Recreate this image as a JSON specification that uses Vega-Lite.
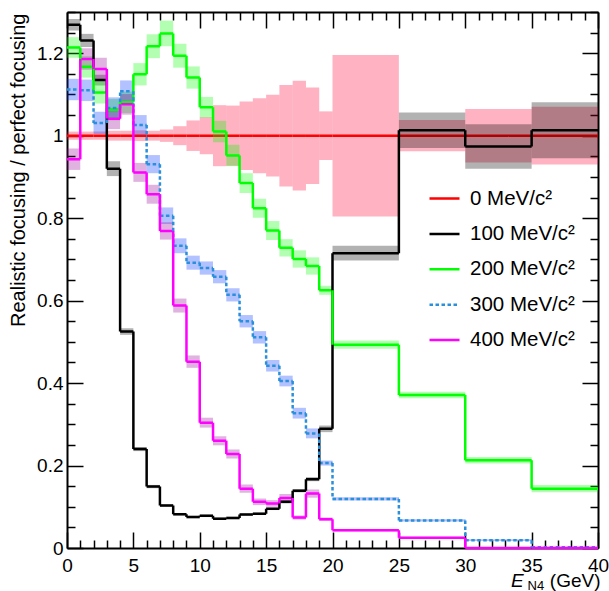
{
"$schema":"https://vega.github.io/schema/vega-lite/v6.json",
"autosize":{"type":"none"},
"width":531,"height":536,
"padding":{"left":67,"top":12,"right":11,"bottom":43},
"background":"white",
"config":{"view":{"stroke":null},
"axis":{"grid":false,"domainColor":"black","domainWidth":2,"tickColor":"black","tickWidth":1.5,"labelColor":"black","labelFont":"Liberation Sans","labelFontSize":19,"titleFont":"Liberation Sans","titleFontSize":19,"titleColor":"black","titleFontWeight":"normal"},
"legend":{"labelFont":"Liberation Sans"}},
"data":{"values":[
{"s":"0 MeV/c²","a":0,"b":1,"y":1,"lo":0.99,"hi":1.01},
{"s":"0 MeV/c²","a":1,"b":2,"y":1,"lo":0.99,"hi":1.01},
{"s":"0 MeV/c²","a":2,"b":3,"y":1,"lo":0.99,"hi":1.01},
{"s":"0 MeV/c²","a":3,"b":4,"y":1,"lo":0.988,"hi":1.012},
{"s":"0 MeV/c²","a":4,"b":5,"y":1,"lo":0.988,"hi":1.012},
{"s":"0 MeV/c²","a":5,"b":6,"y":1,"lo":0.987,"hi":1.013},
{"s":"0 MeV/c²","a":6,"b":7,"y":1,"lo":0.988,"hi":1.012},
{"s":"0 MeV/c²","a":7,"b":8,"y":1,"lo":0.985,"hi":1.015},
{"s":"0 MeV/c²","a":8,"b":9,"y":1,"lo":0.977,"hi":1.023},
{"s":"0 MeV/c²","a":9,"b":10,"y":1,"lo":0.963,"hi":1.037},
{"s":"0 MeV/c²","a":10,"b":11,"y":1,"lo":0.955,"hi":1.045},
{"s":"0 MeV/c²","a":11,"b":12,"y":1,"lo":0.926,"hi":1.074},
{"s":"0 MeV/c²","a":12,"b":13,"y":1,"lo":0.927,"hi":1.073},
{"s":"0 MeV/c²","a":13,"b":14,"y":1,"lo":0.917,"hi":1.083},
{"s":"0 MeV/c²","a":14,"b":15,"y":1,"lo":0.909,"hi":1.091},
{"s":"0 MeV/c²","a":15,"b":16,"y":1,"lo":0.901,"hi":1.099},
{"s":"0 MeV/c²","a":16,"b":17,"y":1,"lo":0.877,"hi":1.123},
{"s":"0 MeV/c²","a":17,"b":18,"y":1,"lo":0.867,"hi":1.133},
{"s":"0 MeV/c²","a":18,"b":19,"y":1,"lo":0.883,"hi":1.117},
{"s":"0 MeV/c²","a":19,"b":20,"y":1,"lo":0.941,"hi":1.059},
{"s":"0 MeV/c²","a":20,"b":25,"y":1,"lo":0.804,"hi":1.196},
{"s":"0 MeV/c²","a":25,"b":30,"y":1,"lo":0.962,"hi":1.038},
{"s":"0 MeV/c²","a":30,"b":35,"y":1,"lo":0.935,"hi":1.065},
{"s":"0 MeV/c²","a":35,"b":40,"y":1,"lo":0.93,"hi":1.07},
{"s":"100 MeV/c²","a":0,"b":1,"y":1.269,"lo":1.255,"hi":1.283},
{"s":"100 MeV/c²","a":1,"b":2,"y":1.231,"lo":1.215,"hi":1.247},
{"s":"100 MeV/c²","a":2,"b":3,"y":1.135,"lo":1.122,"hi":1.148},
{"s":"100 MeV/c²","a":3,"b":4,"y":0.92,"lo":0.902,"hi":0.938},
{"s":"100 MeV/c²","a":4,"b":5,"y":0.525,"lo":0.517,"hi":0.533},
{"s":"100 MeV/c²","a":5,"b":6,"y":0.24,"lo":0.235,"hi":0.245},
{"s":"100 MeV/c²","a":6,"b":7,"y":0.149,"lo":0.145,"hi":0.153},
{"s":"100 MeV/c²","a":7,"b":8,"y":0.103,"lo":0.1,"hi":0.106},
{"s":"100 MeV/c²","a":8,"b":9,"y":0.082,"lo":0.079,"hi":0.085},
{"s":"100 MeV/c²","a":9,"b":10,"y":0.075,"lo":0.072,"hi":0.078},
{"s":"100 MeV/c²","a":10,"b":11,"y":0.078,"lo":0.075,"hi":0.081},
{"s":"100 MeV/c²","a":11,"b":12,"y":0.071,"lo":0.068,"hi":0.074},
{"s":"100 MeV/c²","a":12,"b":13,"y":0.073,"lo":0.07,"hi":0.076},
{"s":"100 MeV/c²","a":13,"b":14,"y":0.081,"lo":0.078,"hi":0.084},
{"s":"100 MeV/c²","a":14,"b":15,"y":0.083,"lo":0.08,"hi":0.086},
{"s":"100 MeV/c²","a":15,"b":16,"y":0.095,"lo":0.092,"hi":0.098},
{"s":"100 MeV/c²","a":16,"b":17,"y":0.112,"lo":0.108,"hi":0.116},
{"s":"100 MeV/c²","a":17,"b":18,"y":0.139,"lo":0.135,"hi":0.143},
{"s":"100 MeV/c²","a":18,"b":19,"y":0.167,"lo":0.162,"hi":0.172},
{"s":"100 MeV/c²","a":19,"b":20,"y":0.289,"lo":0.281,"hi":0.297},
{"s":"100 MeV/c²","a":20,"b":25,"y":0.715,"lo":0.697,"hi":0.733},
{"s":"100 MeV/c²","a":25,"b":30,"y":1.013,"lo":0.97,"hi":1.056},
{"s":"100 MeV/c²","a":30,"b":35,"y":0.974,"lo":0.92,"hi":1.028},
{"s":"100 MeV/c²","a":35,"b":40,"y":1.013,"lo":0.945,"hi":1.081},
{"s":"200 MeV/c²","a":0,"b":1,"y":1.214,"lo":1.189,"hi":1.239},
{"s":"200 MeV/c²","a":1,"b":2,"y":1.167,"lo":1.141,"hi":1.193},
{"s":"200 MeV/c²","a":2,"b":3,"y":1.105,"lo":1.078,"hi":1.132},
{"s":"200 MeV/c²","a":3,"b":4,"y":1.063,"lo":1.037,"hi":1.089},
{"s":"200 MeV/c²","a":4,"b":5,"y":1.081,"lo":1.055,"hi":1.107},
{"s":"200 MeV/c²","a":5,"b":6,"y":1.149,"lo":1.122,"hi":1.176},
{"s":"200 MeV/c²","a":6,"b":7,"y":1.217,"lo":1.188,"hi":1.246},
{"s":"200 MeV/c²","a":7,"b":8,"y":1.248,"lo":1.217,"hi":1.279},
{"s":"200 MeV/c²","a":8,"b":9,"y":1.194,"lo":1.165,"hi":1.223},
{"s":"200 MeV/c²","a":9,"b":10,"y":1.141,"lo":1.114,"hi":1.168},
{"s":"200 MeV/c²","a":10,"b":11,"y":1.069,"lo":1.044,"hi":1.094},
{"s":"200 MeV/c²","a":11,"b":12,"y":1.01,"lo":0.984,"hi":1.036},
{"s":"200 MeV/c²","a":12,"b":13,"y":0.952,"lo":0.926,"hi":0.978},
{"s":"200 MeV/c²","a":13,"b":14,"y":0.885,"lo":0.861,"hi":0.909},
{"s":"200 MeV/c²","a":14,"b":15,"y":0.824,"lo":0.801,"hi":0.847},
{"s":"200 MeV/c²","a":15,"b":16,"y":0.77,"lo":0.747,"hi":0.793},
{"s":"200 MeV/c²","a":16,"b":17,"y":0.728,"lo":0.707,"hi":0.749},
{"s":"200 MeV/c²","a":17,"b":18,"y":0.701,"lo":0.68,"hi":0.722},
{"s":"200 MeV/c²","a":18,"b":19,"y":0.684,"lo":0.663,"hi":0.705},
{"s":"200 MeV/c²","a":19,"b":20,"y":0.625,"lo":0.614,"hi":0.636},
{"s":"200 MeV/c²","a":20,"b":25,"y":0.493,"lo":0.483,"hi":0.503},
{"s":"200 MeV/c²","a":25,"b":30,"y":0.371,"lo":0.363,"hi":0.379},
{"s":"200 MeV/c²","a":30,"b":35,"y":0.213,"lo":0.205,"hi":0.221},
{"s":"200 MeV/c²","a":35,"b":40,"y":0.144,"lo":0.135,"hi":0.153},
{"s":"300 MeV/c²","a":0,"b":1,"y":1.112,"lo":1.086,"hi":1.138},
{"s":"300 MeV/c²","a":1,"b":2,"y":1.11,"lo":1.084,"hi":1.136},
{"s":"300 MeV/c²","a":2,"b":3,"y":1.031,"lo":1.004,"hi":1.058},
{"s":"300 MeV/c²","a":3,"b":4,"y":1.067,"lo":1.041,"hi":1.093},
{"s":"300 MeV/c²","a":4,"b":5,"y":1.108,"lo":1.082,"hi":1.134},
{"s":"300 MeV/c²","a":5,"b":6,"y":1.026,"lo":1.002,"hi":1.05},
{"s":"300 MeV/c²","a":6,"b":7,"y":0.931,"lo":0.909,"hi":0.953},
{"s":"300 MeV/c²","a":7,"b":8,"y":0.806,"lo":0.786,"hi":0.826},
{"s":"300 MeV/c²","a":8,"b":9,"y":0.733,"lo":0.715,"hi":0.751},
{"s":"300 MeV/c²","a":9,"b":10,"y":0.692,"lo":0.675,"hi":0.709},
{"s":"300 MeV/c²","a":10,"b":11,"y":0.679,"lo":0.663,"hi":0.695},
{"s":"300 MeV/c²","a":11,"b":12,"y":0.658,"lo":0.642,"hi":0.674},
{"s":"300 MeV/c²","a":12,"b":13,"y":0.614,"lo":0.598,"hi":0.63},
{"s":"300 MeV/c²","a":13,"b":14,"y":0.55,"lo":0.535,"hi":0.565},
{"s":"300 MeV/c²","a":14,"b":15,"y":0.511,"lo":0.496,"hi":0.526},
{"s":"300 MeV/c²","a":15,"b":16,"y":0.442,"lo":0.428,"hi":0.456},
{"s":"300 MeV/c²","a":16,"b":17,"y":0.405,"lo":0.392,"hi":0.418},
{"s":"300 MeV/c²","a":17,"b":18,"y":0.327,"lo":0.314,"hi":0.34},
{"s":"300 MeV/c²","a":18,"b":19,"y":0.278,"lo":0.266,"hi":0.29},
{"s":"300 MeV/c²","a":19,"b":20,"y":0.206,"lo":0.2,"hi":0.212},
{"s":"300 MeV/c²","a":20,"b":25,"y":0.119,"lo":0.115,"hi":0.123},
{"s":"300 MeV/c²","a":25,"b":30,"y":0.067,"lo":0.064,"hi":0.07},
{"s":"300 MeV/c²","a":30,"b":35,"y":0.019,"lo":0.017,"hi":0.021},
{"s":"300 MeV/c²","a":35,"b":40,"y":0.002,"lo":0.001,"hi":0.003},
{"s":"400 MeV/c²","a":0,"b":1,"y":0.943,"lo":0.917,"hi":0.969},
{"s":"400 MeV/c²","a":1,"b":2,"y":1.186,"lo":1.16,"hi":1.212},
{"s":"400 MeV/c²","a":2,"b":3,"y":1.162,"lo":1.135,"hi":1.189},
{"s":"400 MeV/c²","a":3,"b":4,"y":1.041,"lo":1.016,"hi":1.066},
{"s":"400 MeV/c²","a":4,"b":5,"y":1.076,"lo":1.051,"hi":1.101},
{"s":"400 MeV/c²","a":5,"b":6,"y":0.911,"lo":0.888,"hi":0.934},
{"s":"400 MeV/c²","a":6,"b":7,"y":0.858,"lo":0.835,"hi":0.881},
{"s":"400 MeV/c²","a":7,"b":8,"y":0.769,"lo":0.748,"hi":0.79},
{"s":"400 MeV/c²","a":8,"b":9,"y":0.588,"lo":0.571,"hi":0.605},
{"s":"400 MeV/c²","a":9,"b":10,"y":0.452,"lo":0.437,"hi":0.467},
{"s":"400 MeV/c²","a":10,"b":11,"y":0.304,"lo":0.292,"hi":0.316},
{"s":"400 MeV/c²","a":11,"b":12,"y":0.26,"lo":0.249,"hi":0.271},
{"s":"400 MeV/c²","a":12,"b":13,"y":0.228,"lo":0.217,"hi":0.239},
{"s":"400 MeV/c²","a":13,"b":14,"y":0.144,"lo":0.134,"hi":0.154},
{"s":"400 MeV/c²","a":14,"b":15,"y":0.112,"lo":0.104,"hi":0.12},
{"s":"400 MeV/c²","a":15,"b":16,"y":0.108,"lo":0.1,"hi":0.116},
{"s":"400 MeV/c²","a":16,"b":17,"y":0.121,"lo":0.111,"hi":0.131},
{"s":"400 MeV/c²","a":17,"b":18,"y":0.074,"lo":0.069,"hi":0.079},
{"s":"400 MeV/c²","a":18,"b":19,"y":0.132,"lo":0.122,"hi":0.142},
{"s":"400 MeV/c²","a":19,"b":20,"y":0.07,"lo":0.066,"hi":0.074},
{"s":"400 MeV/c²","a":20,"b":25,"y":0.043,"lo":0.04,"hi":0.046},
{"s":"400 MeV/c²","a":25,"b":30,"y":0.025,"lo":0.023,"hi":0.027},
{"s":"400 MeV/c²","a":30,"b":35,"y":0,"lo":0,"hi":0},
{"s":"400 MeV/c²","a":35,"b":40,"y":0,"lo":0,"hi":0}
]},
"resolve":{"axis":{"x":"independent","y":"independent"}},
"layer":[
{"transform":[{"filter":{"field":"s","equal":"0 MeV/c²"}}],
 "mark":{"type":"rect","fillOpacity":0.3,"strokeWidth":0},
 "encoding":{
  "x":{"field":"a","type":"quantitative","scale":{"domain":[0,40],"nice":false,"zero":false},
   "axis":{"orient":"bottom","values":[0,5,10,15,20,25,30,35,40],"tickSize":-16,"labelPadding":24,"labelExpr":"''+datum.value","labelFlush":false,"labelOverlap":false,"title":"(GeV)","titleX":533,"titleY":38.5,"titleAlign":"right","titleBaseline":"alphabetic"}},
  "x2":{"field":"b"},
  "y":{"field":"lo","type":"quantitative","scale":{"domain":[0,1.3],"nice":false,"zero":false},
   "axis":{"orient":"left","values":[0,0.2,0.4,0.6,0.8,1,1.2],"tickSize":-16,"labelPadding":20,"labelExpr":"''+datum.value","labelFlush":false,"labelOverlap":false,"title":"Realistic focusing / perfect focusing","titleFontSize":20,"titleAngle":270,"titleX":-43,"titleY":1,"titleAlign":"right","titleBaseline":"alphabetic"}},
  "y2":{"field":"hi"},
  "fill":{"field":"s","type":"nominal","scale":{"domain":["400 MeV/c²","300 MeV/c²","200 MeV/c²","100 MeV/c²","0 MeV/c²"],"range":["#990099","#0033ff","#00ff00","#000000","#ff0033"]},"legend":null}
 }},
{"transform":[{"filter":{"field":"s","equal":"0 MeV/c²"}}],
 "mark":{"type":"rule","strokeWidth":2.5,"strokeCap":"butt"},
 "encoding":{
  "x":{"field":"a","type":"quantitative","scale":{"domain":[0,40],"nice":false,"zero":false},
   "axis":{"orient":"bottom","values":[1,2,3,4,6,7,8,9,11,12,13,14,16,17,18,19,21,22,23,24,26,27,28,29,31,32,33,34,36,37,38,39],"tickSize":-8,"labels":false,"domain":false,"title":"N4","titleX":460,"titleY":41,"titleAlign":"left","titleBaseline":"alphabetic","titleFontSize":13}},
  "x2":{"field":"b"},
  "y":{"field":"y","type":"quantitative","scale":{"domain":[0,1.3],"nice":false,"zero":false},
   "axis":{"orient":"left","values":[0.05,0.1,0.15,0.25,0.3,0.35,0.45,0.5,0.55,0.65,0.7,0.75,0.85,0.9,0.95,1.05,1.1,1.15,1.25,1.3],"tickSize":-8,"labels":false,"domain":false,"title":null}},
  "stroke":{"field":"s","type":"nominal","scale":{"domain":["0 MeV/c²","100 MeV/c²","200 MeV/c²","300 MeV/c²","400 MeV/c²"],"range":["#ff0000","#000000","#00ff00","#2a90dc","#ff00ff"]},
   "legend":{"title":null,"orient":"none","legendX":361,"legendY":170,"padding":0,"symbolType":"stroke","symbolSize":900,"symbolStrokeWidth":2.5,"labelFontSize":20.5,"labelColor":"black","labelOffset":9,"rowPadding":8.4,"labelExpr":"datum.label == '0 MeV/c²' ? '\u2007' + datum.label : datum.label"}},
  "strokeDash":{"field":"s","type":"nominal","scale":{"domain":["0 MeV/c²","100 MeV/c²","200 MeV/c²","300 MeV/c²","400 MeV/c²"],"range":[[1,0],[1,0],[1,0],[3.5,2.5],[1,0]]},
   "legend":{"title":null,"orient":"none","legendX":361,"legendY":170,"padding":0,"symbolType":"stroke","symbolSize":900,"symbolStrokeWidth":2.5,"labelFontSize":20.5,"labelColor":"black","labelOffset":9,"rowPadding":8.4,"labelExpr":"datum.label == '0 MeV/c²' ? '\u2007' + datum.label : datum.label"}}
 }},
{"transform":[{"filter":{"not":{"field":"s","equal":"0 MeV/c²"}}}],
 "mark":{"type":"rect","fillOpacity":0.3,"strokeWidth":0},
 "encoding":{
  "x":{"field":"a","type":"quantitative","scale":{"domain":[0,40],"nice":false,"zero":false},
   "axis":{"orient":"top","values":[0,5,10,15,20,25,30,35,40],"tickSize":-16,"labels":false,"title":"E","titleX":443.5,"titleY":574.5,"titleAlign":"left","titleBaseline":"alphabetic","titleFontStyle":"italic"}},
  "x2":{"field":"b"},
  "y":{"field":"lo","type":"quantitative","scale":{"domain":[0,1.3],"nice":false,"zero":false},
   "axis":{"orient":"right","values":[0,0.2,0.4,0.6,0.8,1,1.2],"tickSize":-16,"labels":false,"title":null}},
  "y2":{"field":"hi"},
  "fill":{"field":"s","type":"nominal","scale":{"domain":["400 MeV/c²","300 MeV/c²","200 MeV/c²","100 MeV/c²","0 MeV/c²"],"range":["#990099","#0033ff","#00ff00","#000000","#ff0033"]},"legend":null}
 }},
{"transform":[{"filter":{"not":{"field":"s","equal":"0 MeV/c²"}}}],
 "mark":{"type":"rule","strokeWidth":2.5,"strokeCap":"butt"},
 "encoding":{
  "x":{"field":"a","type":"quantitative","scale":{"domain":[0,40],"nice":false,"zero":false},
   "axis":{"orient":"top","values":[1,2,3,4,6,7,8,9,11,12,13,14,16,17,18,19,21,22,23,24,26,27,28,29,31,32,33,34,36,37,38,39],"tickSize":-8,"labels":false,"domain":false,"title":null}},
  "x2":{"field":"b"},
  "y":{"field":"y","type":"quantitative","scale":{"domain":[0,1.3],"nice":false,"zero":false},
   "axis":{"orient":"right","values":[0.05,0.1,0.15,0.25,0.3,0.35,0.45,0.5,0.55,0.65,0.7,0.75,0.85,0.9,0.95,1.05,1.1,1.15,1.25,1.3],"tickSize":-8,"labels":false,"domain":false,"title":null}},
  "stroke":{"field":"s","type":"nominal","scale":{"domain":["0 MeV/c²","100 MeV/c²","200 MeV/c²","300 MeV/c²","400 MeV/c²"],"range":["#ff0000","#000000","#00ff00","#2a90dc","#ff00ff"]},
   "legend":{"title":null,"orient":"none","legendX":361,"legendY":170,"padding":0,"symbolType":"stroke","symbolSize":900,"symbolStrokeWidth":2.5,"labelFontSize":20.5,"labelColor":"black","labelOffset":9,"rowPadding":8.4,"labelExpr":"datum.label == '0 MeV/c²' ? '\u2007' + datum.label : datum.label"}},
  "strokeDash":{"field":"s","type":"nominal","scale":{"domain":["0 MeV/c²","100 MeV/c²","200 MeV/c²","300 MeV/c²","400 MeV/c²"],"range":[[1,0],[1,0],[1,0],[3.5,2.5],[1,0]]},
   "legend":{"title":null,"orient":"none","legendX":361,"legendY":170,"padding":0,"symbolType":"stroke","symbolSize":900,"symbolStrokeWidth":2.5,"labelFontSize":20.5,"labelColor":"black","labelOffset":9,"rowPadding":8.4,"labelExpr":"datum.label == '0 MeV/c²' ? '\u2007' + datum.label : datum.label"}}
 }},
{"transform":[{"filter":{"not":{"field":"s","equal":"0 MeV/c²"}}},
  {"window":[{"op":"lag","field":"y","as":"yp"}],"sort":[{"field":"a","order":"ascending"}],"groupby":["s"]},
  {"filter":"datum.yp != null"}],
 "mark":{"type":"rule","strokeWidth":2.5,"strokeCap":"butt"},
 "encoding":{
  "x":{"field":"a","type":"quantitative","scale":{"domain":[0,40],"nice":false,"zero":false},"axis":null},
  "y":{"field":"yp","type":"quantitative","scale":{"domain":[0,1.3],"nice":false,"zero":false},"axis":null},
  "y2":{"field":"y"},
  "stroke":{"field":"s","type":"nominal","scale":{"domain":["0 MeV/c²","100 MeV/c²","200 MeV/c²","300 MeV/c²","400 MeV/c²"],"range":["#ff0000","#000000","#00ff00","#2a90dc","#ff00ff"]},
   "legend":{"title":null,"orient":"none","legendX":361,"legendY":170,"padding":0,"symbolType":"stroke","symbolSize":900,"symbolStrokeWidth":2.5,"labelFontSize":20.5,"labelColor":"black","labelOffset":9,"rowPadding":8.4,"labelExpr":"datum.label == '0 MeV/c²' ? '\u2007' + datum.label : datum.label"}},
  "strokeDash":{"field":"s","type":"nominal","scale":{"domain":["0 MeV/c²","100 MeV/c²","200 MeV/c²","300 MeV/c²","400 MeV/c²"],"range":[[1,0],[1,0],[1,0],[3.5,2.5],[1,0]]},
   "legend":{"title":null,"orient":"none","legendX":361,"legendY":170,"padding":0,"symbolType":"stroke","symbolSize":900,"symbolStrokeWidth":2.5,"labelFontSize":20.5,"labelColor":"black","labelOffset":9,"rowPadding":8.4,"labelExpr":"datum.label == '0 MeV/c²' ? '\u2007' + datum.label : datum.label"}}
 }}
]
}
